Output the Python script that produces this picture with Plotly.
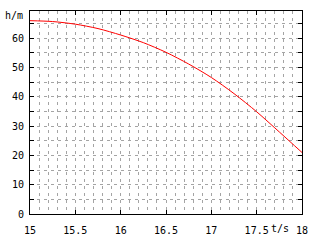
import plotly.graph_objects as go

flow = [15.0, 15.25, 15.5, 15.75, 16.0, 16.25, 16.5, 16.75, 17.0, 17.25, 17.5, 17.75, 18.0]
head = [66.0, 65.7, 64.8, 63.3, 61.1, 58.5, 55.2, 51.2, 46.6, 41.1, 34.9, 28.0, 21.0]

x_ticks = [15, 15.5, 16, 16.5, 17, 17.5, 18]
x_labels = ["15", "15.5", "16", "16.5", "17", "17.5", "18"]
y_ticks = [0, 10, 20, 30, 40, 50, 60]

font = dict(family="DejaVu Sans Mono", size=10, color="black")
gridc = "#a4a4a4"
dash = "3px,4px"

fig = go.Figure()
fig.add_trace(go.Scatter(x=flow, y=head, mode="lines", line=dict(color="red", width=1, shape="spline", smoothing=0.8),
                         showlegend=False, hoverinfo="skip"))

fig.update_layout(
    width=320, height=240,
    margin=dict(l=30, r=18, t=11, b=26, autoexpand=False),
    paper_bgcolor="white", plot_bgcolor="white",
    font=font,
    xaxis=dict(range=[15, 18], tickvals=x_ticks, ticktext=x_labels,
               showline=True, linecolor="black", linewidth=1, mirror="ticks",
               ticks="inside", ticklen=4, tickcolor="black", tickfont=font,
               showgrid=True, gridcolor=gridc, griddash=dash, gridwidth=1,
               minor=dict(dtick=0.1, showgrid=True, gridcolor=gridc, griddash=dash, gridwidth=1),
               zeroline=False, fixedrange=True, ticklabelstandoff=7, automargin=False),
    yaxis=dict(range=[0, 69.3], tickvals=y_ticks,
               showline=True, linecolor="black", linewidth=1, mirror="ticks",
               ticks="inside", ticklen=4, tickcolor="black", tickfont=font,
               showgrid=True, gridcolor=gridc, griddash=dash, gridwidth=1,
               minor=dict(dtick=5, showgrid=True, gridcolor=gridc, griddash=dash, gridwidth=1,
                          ticks="inside", ticklen=4, tickcolor="black"),
               zeroline=False, fixedrange=True, ticklabelstandoff=3, automargin=False),
    annotations=[
        dict(text="h/m", xref="paper", yref="paper", x=-0.02, y=0.98, xanchor="right", yanchor="middle",
             showarrow=False, font=font),
        dict(text="t/s", xref="x", yref="paper", x=17.757, y=0, xanchor="center", yanchor="top",
             yshift=-7, showarrow=False, font=font),
    ],
)

fig.write_html("out.html", config={"displayModeBar": False})
